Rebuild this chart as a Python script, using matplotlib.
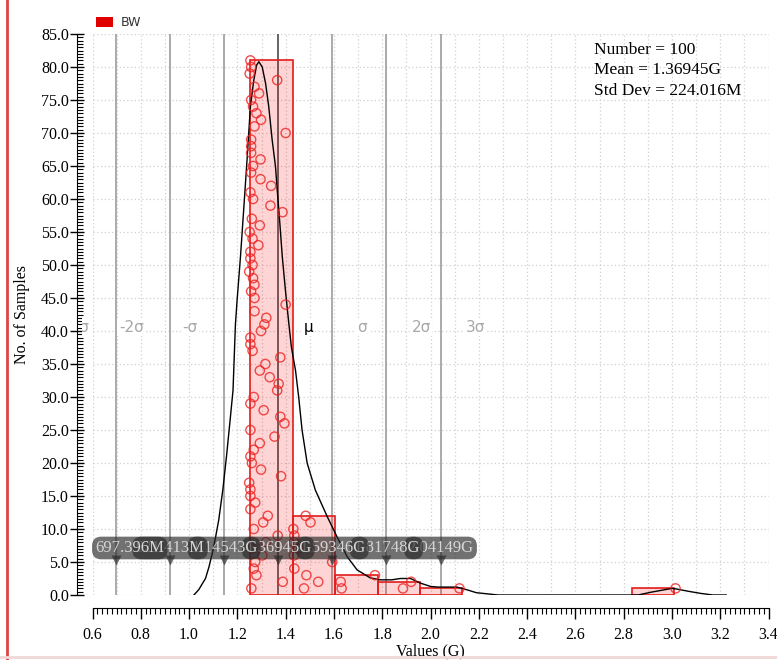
import matplotlib
matplotlib.use('Agg')
import matplotlib.pyplot as plt
from matplotlib.patches import Rectangle
from matplotlib.lines import Line2D
from matplotlib.ticker import MultipleLocator, FormatStrFormatter
from matplotlib.transforms import Bbox, TransformedBbox, blended_transform_factory

plt.rcParams['font.family'] = ['Liberation Serif', 'DejaVu Serif']

# BW samples (G), per histogram bin, in sample order (stacked one per row)
bw_bin1 = [1.258, 1.388, 1.279, 1.268, 1.274, 1.303, 1.262, 1.318, 1.367, 1.268,
           1.307, 1.326, 1.254, 1.274, 1.254, 1.254, 1.249, 1.381, 1.298, 1.260,
           1.254, 1.268, 1.293, 1.354, 1.254, 1.395, 1.378, 1.309, 1.254, 1.268,
           1.365, 1.371, 1.334, 1.293, 1.316, 1.378, 1.263, 1.254, 1.254, 1.298,
           1.312, 1.320, 1.271, 1.400, 1.271, 1.257, 1.271, 1.265, 1.249, 1.263,
           1.254, 1.254, 1.287, 1.263, 1.251, 1.293, 1.260, 1.387, 1.337, 1.265,
           1.254, 1.340, 1.296, 1.257, 1.265, 1.296, 1.257, 1.257, 1.257, 1.400,
           1.271, 1.298, 1.279, 1.265, 1.257, 1.290, 1.271, 1.365, 1.251, 1.257,
           1.254]
bw_bin2 = [1.476, 1.535, 1.486, 1.436, 1.593, 1.434, 1.452, 1.434, 1.436, 1.432,
           1.503, 1.483]
bw_bin3 = [1.632, 1.628, 1.770]
bw_bin4 = [1.886, 1.920]
bw_bin5 = [2.120]
bw_bin10 = [3.015]

bar_left = [1.254, 1.4296, 1.6052, 1.7808, 1.9564, 2.8344]
bar_count = [81, 12, 3, 2, 1, 1]
bin_width = 0.1756

# density curve scaled to counts
curve_x = [1.02, 1.04, 1.058, 1.068, 1.082, 1.096, 1.11, 1.123, 1.14, 1.155,
           1.17, 1.182, 1.187, 1.192, 1.199, 1.213, 1.227, 1.241, 1.254, 1.268,
           1.280, 1.289, 1.303, 1.317, 1.330, 1.344, 1.358, 1.365, 1.376, 1.386,
           1.399, 1.413, 1.424, 1.441, 1.454, 1.468, 1.489, 1.523, 1.572, 1.613,
           1.655, 1.696, 1.75, 1.79, 1.84, 1.875, 1.917, 1.958, 2.0, 2.03,
           2.11, 2.15, 2.19, 2.28, 2.86, 2.91, 3.0, 3.02, 3.07, 3.118,
           3.17, 3.225]
curve_y = [0, 0.8, 1.9, 2.5, 4.2, 6.3, 8.8, 11.4, 16, 21,
           26.5, 31, 36, 41, 44.7, 51.3, 58.8, 66.4, 74, 78,
           80.3, 80.8, 80, 77.5, 74, 69, 64.9, 61.4, 56.3, 51.3,
           46.2, 41.2, 37.5, 34, 30, 25, 20, 15.9, 11.9, 8.8,
           5.8, 3.8, 2.6, 2.3, 2.3, 2.5, 2.5, 1.8, 1.3, 1.2,
           1.2, 0.8, 0.35, 0, 0, 0.4, 1.0, 0.9, 0.55, 0.25,
           0, 0]

# mean +/- k*sigma markers
sigma_marks = [0.697396, 0.921413, 1.14543, 1.36945, 1.59346, 1.81748, 2.04149]
sigma_names = ['-3σ', '-2σ', '-σ', 'μ', 'σ', '2σ', '3σ']

stats_lines = ['Number = 100', 'Mean = 1.36945G', 'Std Dev = 224.016M']


def eng_label(v):
    if v < 1:
        return '%.3fM' % (v * 1000)
    return '%.5fG' % v


fig = plt.figure(figsize=(7.77, 6.6), dpi=100)
ax = fig.add_axes([92.5 / 777, 65 / 660, 676 / 777, 561 / 660])
ax.set_xlim(0.6, 3.4)
ax.set_ylim(0, 85)

# dotted grid
for gx in [0.6 + 0.1 * i for i in range(29)]:
    ax.axvline(gx, color='#d0d0d0', lw=0.9, ls=(0, (1, 2)), zorder=0)
for gy in range(0, 90, 5):
    ax.axhline(gy, color='#d0d0d0', lw=0.9, ls=(0, (1, 2)), zorder=0)

for i, m in enumerate(sigma_marks):
    col = '#4a4a4a' if sigma_names[i] == 'μ' else '#9c9c9c'
    ax.axvline(m, color=col, lw=1.2, zorder=1)

ax.bar(bar_left, bar_count, width=bin_width, align='edge',
       facecolor=(1, 0, 0, 0.17), edgecolor='#e41b1b', lw=1.2, zorder=2)
ax.plot(curve_x, curve_y, color='black', lw=1.0, zorder=3)

# samples stacked inside their bin
for group in [bw_bin1, bw_bin2, bw_bin3, bw_bin4, bw_bin5, bw_bin10]:
    ys = list(range(1, len(group) + 1))
    ax.scatter(group, ys, s=44, facecolors='none', edgecolors='#ee2222',
               linewidths=1.0, alpha=0.8, zorder=4)

# sigma names beside the lines
clip = TransformedBbox(Bbox([[82 / 777, 0], [1, 1]]), fig.transFigure)
for m, name in zip(sigma_marks, sigma_names):
    neg = name.startswith('-')
    t = ax.annotate(name, xy=(m, 0.4777), xycoords=('data', 'axes fraction'),
                    xytext=(-19 if neg else 18, 0), textcoords='offset points',
                    ha='right' if neg else 'left', va='center', fontsize=11,
                    color='black' if name == 'μ' else '#a8a8a8',
                    family=['DejaVu Sans'], annotation_clip=False, zorder=5,
                    bbox=dict(boxstyle='square,pad=0.1', fc='white', ec='none'))
    t.set_clip_on(True)
    t.set_clip_box(clip)

# value markers along the bottom
trans = blended_transform_factory(ax.transData, ax.transAxes)
n = len(sigma_marks)
for i in reversed(range(n)):
    m = sigma_marks[i]
    z = 10 + (n - i)
    tx, ha = (0.612, 'left') if i == 0 else (m, 'center')
    ax.plot([m], [0.0624], marker='v', ms=7, color='#282828', alpha=0.66,
            mec='none', transform=trans, zorder=z, clip_on=False)
    ax.text(tx, 0.0838, eng_label(m), transform=trans, ha=ha, va='center',
            fontsize=12, color='#d6d6d6', zorder=z,
            bbox=dict(boxstyle='round,pad=0.2,rounding_size=0.55',
                      fc='#282828', ec='none', alpha=0.66))

for k, line in enumerate(stats_lines):
    ax.text(0.742, [0.9715, 0.936, 0.898][k], line, transform=ax.transAxes,
            ha='left', va='center', fontsize=12.5, color='black', zorder=6)

# axes as offset rulers
for s in ['top', 'right']:
    ax.spines[s].set_visible(False)
ax.spines['left'].set_position(('outward', 11))
ax.spines['bottom'].set_position(('outward', 9))
ax.yaxis.set_major_locator(MultipleLocator(5))
ax.yaxis.set_minor_locator(MultipleLocator(0.5))
ax.xaxis.set_major_locator(MultipleLocator(0.2))
ax.xaxis.set_minor_locator(MultipleLocator(0.02))
ax.yaxis.set_major_formatter(FormatStrFormatter('%.1f'))
ax.xaxis.set_major_formatter(FormatStrFormatter('%.1f'))
ax.tick_params(axis='y', which='major', direction='inout', length=10, width=1,
               labelsize=11.5, pad=1)
ax.tick_params(axis='y', which='minor', direction='in', length=4, width=0.8)
ax.tick_params(axis='x', which='major', direction='out', length=8, width=1,
               labelsize=11.5, pad=6)
ax.tick_params(axis='x', which='minor', direction='out', length=4, width=0.8)

ax.set_xlabel('Values (G)', fontsize=11.5)
ax.xaxis.set_label_coords(0.5, -0.087)
ax.set_ylabel('No. of Samples', fontsize=11.5)
ax.yaxis.set_label_coords(-0.093, 0.5)

# legend swatch above the plot
fig.patches.append(Rectangle((96 / 777, 1 - 27 / 660), 17 / 777, 10 / 660,
                             transform=fig.transFigure, fc='#e00000', ec='none'))
fig.text(121 / 777, 1 - 22 / 660, 'BW', family=['DejaVu Sans'], fontsize=9,
         color='#333333', va='center')

# window border
fig.lines.append(Line2D([7 / 777, 7 / 777], [0, 1], transform=fig.transFigure,
                        color='#dd4444', lw=2))
fig.lines.append(Line2D([0, 1], [3 / 660, 3 / 660], transform=fig.transFigure,
                        color='#f0d8d8', lw=2))

fig.savefig('out.png', dpi=100)
